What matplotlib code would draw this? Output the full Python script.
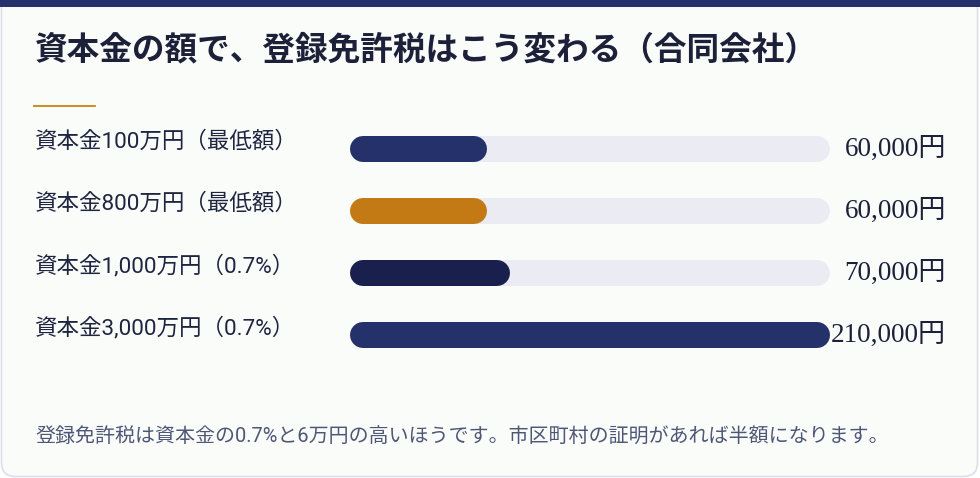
import matplotlib
matplotlib.use("Agg")
import matplotlib.pyplot as plt
from matplotlib.patches import FancyBboxPatch, Rectangle
from matplotlib.lines import Line2D
import matplotlib.transforms as mtransforms

# data
labels = [
    "資本金100万円（最低額）",
    "資本金800万円（最低額）",
    "資本金1,000万円（0.7%）",
    "資本金3,000万円（0.7%）",
]
taxes = [60000, 60000, 70000, 210000]
value_texts = ["60,000円", "60,000円", "70,000円", "210,000円"]
bar_colors = ["#24316b", "#c47a14", "#19204d", "#24316b"]
scale_max = 210000

title = "資本金の額で、登録免許税はこう変わる（合同会社）"
note = "登録免許税は資本金の0.7%と6万円の高いほうです。市区町村の証明があれば半額になります。"

W, H = 980, 478
fig = plt.figure(figsize=(W / 100, H / 100), dpi=100)
fig.patch.set_facecolor("white")

# background card in pixel coordinates
bg = fig.add_axes([0, 0, 1, 1])
bg.set_xlim(0, W)
bg.set_ylim(H, 0)
bg.axis("off")
bg.add_patch(FancyBboxPatch((1.5, -10), W - 4, H + 8.5,
                            boxstyle="round,pad=0,rounding_size=14",
                            facecolor="#fafcfa", edgecolor="#dcdfe9", lw=1.2))
bg.add_patch(Rectangle((0, 0), W, 7, facecolor="#24316b", edgecolor="none"))
bg.add_line(Line2D([34, 95], [106, 106], color="#c9850f", lw=1.3))

# bar axes: track spans x 350..830 px, rows 62 px apart
left, right = 350, 830
top, bottom = 118, 366
ax = fig.add_axes([left / W, 1 - bottom / H, (right - left) / W, (bottom - top) / H])
ax.set_xlim(0, scale_max)
ax.set_ylim(len(taxes) - 0.5, -0.5)
ax.axis("off")

# pill bars: thick lines with round caps, shortened by the cap radius
bar_px = 26
px_x = scale_max / (right - left)
px_y = len(taxes) / (bottom - top)
cap = bar_px / 2 * px_x
lw_pt = bar_px * 72 / fig.dpi

for i, (v, c) in enumerate(zip(taxes, bar_colors)):
    ax.plot([cap, scale_max - cap], [i, i], color="#ebecf3", lw=lw_pt,
            solid_capstyle="round", zorder=1)
    ax.plot([cap, v - cap], [i, i], color=c, lw=lw_pt,
            solid_capstyle="round", zorder=2)

tr = mtransforms.blended_transform_factory(fig.transFigure, ax.transData)
for i, (lab, vt) in enumerate(zip(labels, value_texts)):
    ax.text(35 / W, i - 7 * px_y, lab, transform=tr, ha="left", va="center",
            fontsize=16.2, color="#1f2540", family=["Roboto", "Noto Sans CJK JP"])
    ax.text(946 / W, i, vt, transform=tr, ha="right", va="center",
            fontsize=19.5, color="#1c2038", family=["Liberation Serif", "Noto Sans CJK JP"],
            zorder=3)

fig.text(35 / W, 1 - 50 / H, title, ha="left", va="center", fontsize=23.5,
         fontweight="bold", color="#1c2038", family=["Noto Sans CJK JP"])
fig.text(35 / W, 1 - 437 / H, note, ha="left", va="center", fontsize=14.4,
         color="#4f5776", family=["Roboto", "Noto Sans CJK JP"])

fig.savefig("out.png", dpi=100, facecolor=fig.get_facecolor())
